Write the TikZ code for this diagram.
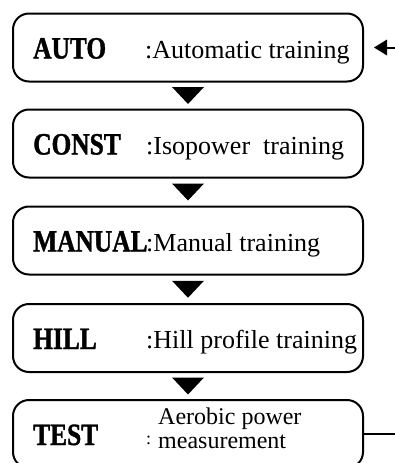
\documentclass[tikz,border=0pt]{standalone}
\usepackage{fontspec}
\setmainfont{Liberation Serif}
\newfontfamily\kwfam[FakeStretch=0.82,BoldFeatures={FakeBold=1.2}]{Liberation Serif}
\usetikzlibrary{arrows.meta,calc}
\begin{document}
\begin{tikzpicture}[x=1pt,y=-1pt,
  box/.style={draw, line width=2pt, rounded corners=16pt, minimum width=350pt, minimum height=68pt, inner sep=0pt},
  kw/.style={anchor=base west, inner sep=0pt, font=\kwfam\bfseries\fontsize{31}{31}\selectfont},
  desc/.style={anchor=base west, inner sep=0pt, font=\fontsize{26}{26}\selectfont},
  tri/.style={fill=black}]
\clip (0,0) rectangle (395,463);
\useasboundingbox (0,0) rectangle (395,463);
\node[box] (b1) at (188,47.5) {};
\node[box] (b2) at (188,143.5) {};
\node[box] (b3) at (188,240.5) {};
\node[box] (b4) at (188,338) {};
\node[box] (b5) at (188,434) {};
% keywords
\node[kw] (k1) at (33,58.5) {AUTO};
\node[kw] (k2) at (33,154.5) {CONST};
\node[kw] (k3) at (33,251.5) {MANUAL};
\node[kw] (k4) at (33,349) {HILL};
\node[kw] (k5) at (33,445) {TEST};
% descriptions
\node[desc] (d1) at (145,58) {:Automatic training};
\node[desc] (d2) at (146,154) {:Isopower~ training};
\node[desc] (d3) at (146,251) {:Manual training};
\node[desc] (d4) at (146,348.5) {:Hill profile training};
\node[anchor=base west, inner sep=0pt, font=\fontsize{18}{18}\selectfont] (c5) at (146,444) {:};
\node[anchor=base west, inner sep=0pt, align=left, font=\fontsize{24}{24}\selectfont] (d5) at (158,448) {Aerobic power\\measurement};
% triangles between boxes
\foreach \a/\b in {b1/b2,b2/b3,b3/b4,b4/b5}{
  \coordinate (m) at ($(\a.south)!0.5!(\b.north)$);
  \fill[tri] ($(m)+(-16,-8.5)$) -- ($(m)+(16,-8.5)$) -- ($(m)+(0,8.5)$) -- cycle;
}
% return arrow
\coordinate (ain) at (400,47.5);
\coordinate (tip) at ([xshift=10pt]b1.east);
\coordinate (aout) at (400,434);
\draw[line width=2pt] (ain) -- ([xshift=10pt]tip);
\fill[tri] (tip) -- ($(tip)+(13,-8)$) -- ($(tip)+(13,8)$) -- cycle;
\draw[line width=2pt] (b5.east) -- (aout);
\end{tikzpicture}
\end{document}
